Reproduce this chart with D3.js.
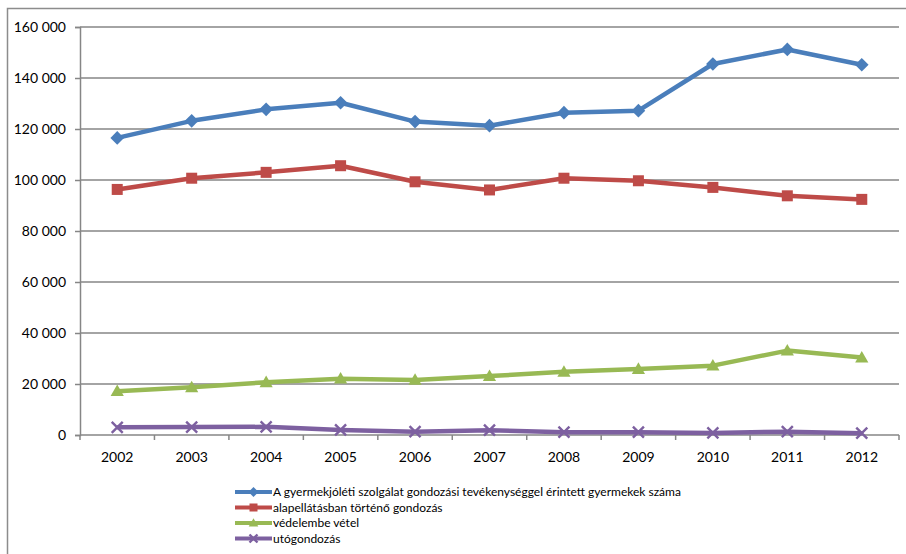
<!DOCTYPE html>
<html>
<head>
<meta charset="utf-8">
<script src="https://cdn.jsdelivr.net/npm/d3@7"></script>
<style>
  html, body { margin: 0; padding: 0; background: #fff; }
  svg { display: block; }
  text { font-family: Lato, "Open Sans", sans-serif; fill: #000; }
</style>
</head>
<body>
<svg id="chart" width="906" height="554"></svg>
<script>
// Years on the category axis
const years = ["2002", "2003", "2004", "2005", "2006", "2007", "2008", "2009", "2010", "2011", "2012"];

// Series values (number of children)
const gyermekjoleti = [116500, 123200, 127700, 130300, 122900, 121300, 126400, 127200, 145500, 151200, 145200];
const alapellatas   = [96300, 100700, 103000, 105600, 99300, 96100, 100700, 99700, 97100, 93800, 92400];
const vedelembe     = [17200, 18700, 20700, 22100, 21600, 23100, 24800, 25900, 27200, 33100, 30400];
const utogondozas   = [3000, 3100, 3200, 2000, 1300, 1900, 1100, 1100, 800, 1300, 700];

// Series names shown in the legend
const seriesNames = [
  "A gyermekjóléti szolgálat gondozási tevékenységgel érintett gyermekek száma",
  "alapellátásban történő gondozás",
  "védelembe vétel",
  "utógondozás"
];

// Value axis ticks
const yTicks = [0, 20000, 40000, 60000, 80000, 100000, 120000, 140000, 160000];

const series = [
  { name: seriesNames[0], values: gyermekjoleti, color: "#4A7EBB", marker: "diamond" },
  { name: seriesNames[1], values: alapellatas,   color: "#BE4B48", marker: "square" },
  { name: seriesNames[2], values: vedelembe,     color: "#98B954", marker: "triangle" },
  { name: seriesNames[3], values: utogondozas,   color: "#7D60A0", marker: "cross" }
];

const svg = d3.select("#chart");
const plot = { left: 80, right: 899, top: 27, bottom: 435 };

// Outer chart frame (open on the right and bottom)
svg.append("path")
  .attr("d", "M7.5,554 L7.5,8.5 L906,8.5")
  .attr("fill", "none")
  .attr("stroke", "#8c8c8c")
  .attr("stroke-width", 1.5);

const x = d3.scaleBand().domain(years).range([plot.left, plot.right]);
const y = d3.scaleLinear().domain([0, 160000]).range([plot.bottom, plot.top]);

const fmt = v => d3.format(",")(v).replace(/,/g, " ");

// Horizontal gridlines
svg.append("g")
  .selectAll("line")
  .data(yTicks.filter(d => d > 0))
  .join("line")
  .attr("x1", plot.left).attr("x2", plot.right)
  .attr("y1", d => y(d)).attr("y2", d => y(d))
  .attr("stroke", "#868686")
  .attr("stroke-width", 1.5);

// Value axis
const yAxis = svg.append("g")
  .attr("transform", `translate(${plot.left},0)`)
  .call(d3.axisLeft(y).tickValues(yTicks).tickSize(5).tickPadding(9).tickFormat(fmt));
yAxis.select(".domain").attr("stroke", "#868686").attr("stroke-width", 1.5);
yAxis.selectAll(".tick line").attr("stroke", "#868686").attr("stroke-width", 1.5);
yAxis.selectAll("text").style("font-size", "14px").style("font-family", "Lato, sans-serif").attr("fill", "#000");

// Category axis with tick marks between years
const xAxis = svg.append("g")
  .attr("transform", `translate(0,${plot.bottom})`)
  .call(d3.axisBottom(x).tickSize(0).tickPadding(17));
xAxis.select(".domain").attr("stroke", "#868686").attr("stroke-width", 1.5).attr("d", `M${plot.left},0H${plot.right}`);
xAxis.selectAll("text").style("font-size", "14px").style("font-family", "Lato, sans-serif").attr("fill", "#000");

const boundaries = years.map(d => x(d)).concat([x(years[years.length - 1]) + x.bandwidth()]);
svg.append("g")
  .selectAll("line")
  .data(boundaries)
  .join("line")
  .attr("x1", d => d).attr("x2", d => d)
  .attr("y1", plot.bottom).attr("y2", plot.bottom + 5)
  .attr("stroke", "#868686")
  .attr("stroke-width", 1.5);

// Marker drawing
function drawMarker(g, type, color, size) {
  const s = size;
  if (type === "diamond") {
    g.append("path").attr("d", `M0,${-s * 0.62}L${s * 0.62},0L0,${s * 0.62}L${-s * 0.62},0Z`).attr("fill", color);
  } else if (type === "square") {
    g.append("rect").attr("x", -s / 2).attr("y", -s / 2).attr("width", s).attr("height", s).attr("fill", color);
  } else if (type === "triangle") {
    g.append("path").attr("d", `M0,${-s * 0.6}L${s * 0.6},${s * 0.45}L${-s * 0.6},${s * 0.45}Z`).attr("fill", color);
  } else if (type === "cross") {
    const h = s * 0.5;
    g.append("path").attr("d", `M${-h},${-h}L${h},${h}M${-h},${h}L${h},${-h}`)
      .attr("stroke", color).attr("stroke-width", 2.4).attr("fill", "none");
  }
}

const line = d3.line()
  .x((d, i) => x(years[i]) + x.bandwidth() / 2)
  .y(d => y(d));

series.forEach(s => {
  const g = svg.append("g");
  g.append("path")
    .datum(s.values)
    .attr("d", line)
    .attr("fill", "none")
    .attr("stroke", s.color)
    .attr("stroke-width", 4.5)
    .attr("stroke-linejoin", "round");
  s.values.forEach((v, i) => {
    const m = g.append("g").attr("transform", `translate(${x(years[i]) + x.bandwidth() / 2},${y(v)})`);
    drawMarker(m, s.marker, s.color, 11);
  });
});

// Legend
const legend = svg.append("g").attr("transform", "translate(235,492)");
series.forEach((s, i) => {
  const row = legend.append("g").attr("transform", `translate(0,${i * 15.5})`);
  row.append("line").attr("x1", 0).attr("x2", 37).attr("y1", 0).attr("y2", 0)
    .attr("stroke", s.color).attr("stroke-width", 4);
  const m = row.append("g").attr("transform", "translate(18.5,0)");
  drawMarker(m, s.marker, s.color, 8);
  row.append("text")
    .attr("x", 38).attr("y", 0).attr("dy", "0.35em")
    .style("font-size", "12px")
    .text(s.name);
});
</script>
</body>
</html>
